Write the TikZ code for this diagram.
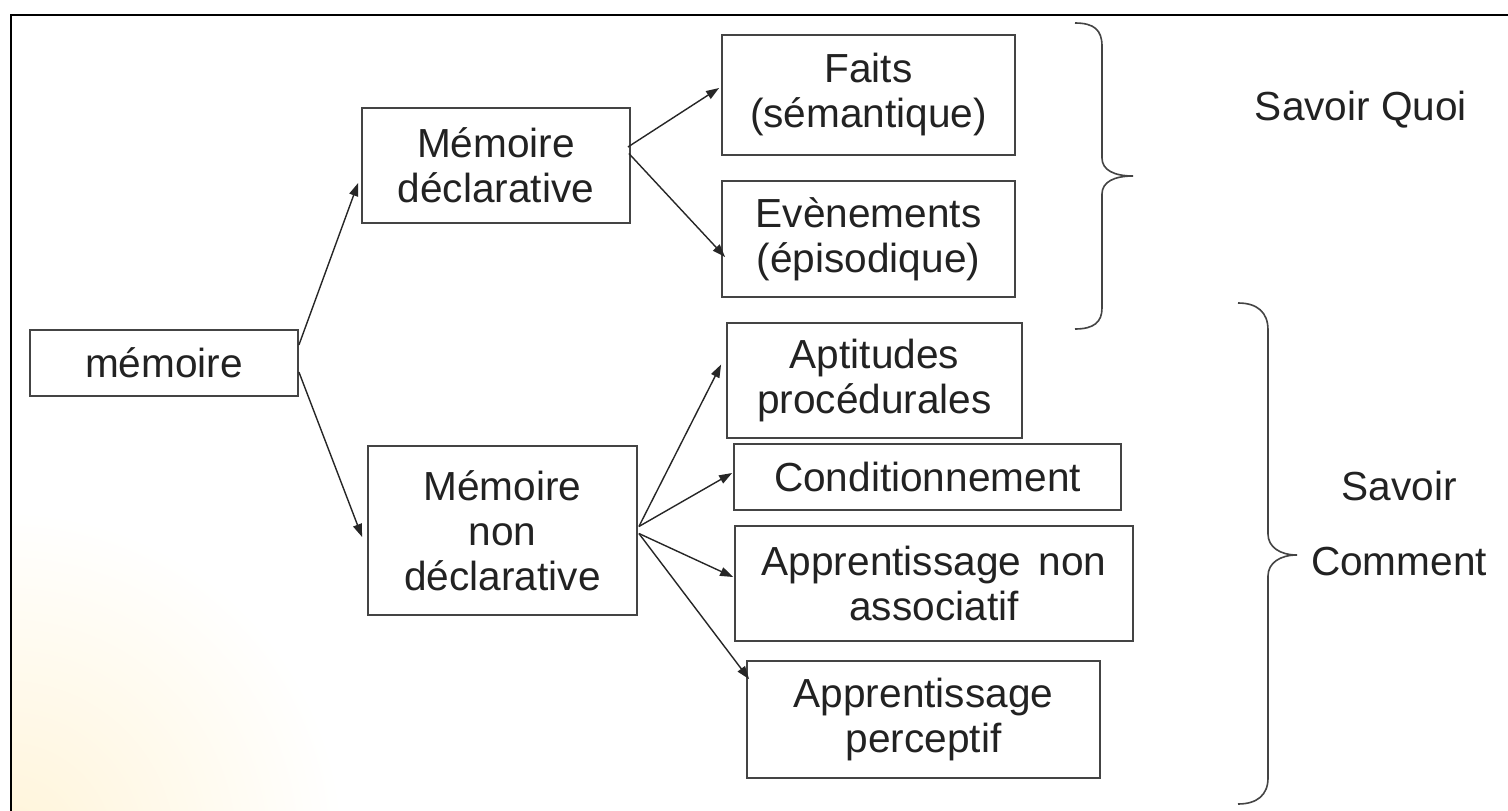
\documentclass[tikz,border=0pt]{standalone}
\usepackage{fontspec}
\setmainfont{Liberation Sans}
\usetikzlibrary{arrows.meta}
\definecolor{txt}{HTML}{222222}
\definecolor{edge}{HTML}{444444}
\definecolor{glow}{RGB}{255,244,216}
\tikzset{
  box/.style={draw=edge, line width=1.8pt, inner sep=0pt, align=center,
    text=txt, font=\fontsize{40.6pt}{45pt}\selectfont},
  conn/.style={draw=black!85, line width=1.4pt, -{Triangle[length=13pt,width=9pt]}},
  lbl/.style={inner sep=0pt, align=center, text=txt, font=\fontsize{40.6pt}{75pt}\selectfont},
  bracepath/.style={draw=edge, line width=1.6pt}
}
\begin{document}
\begin{tikzpicture}[x=1pt,y=-1pt]
\useasboundingbox (0,0) rectangle (1508,811);
\fill[white] (0,0) rectangle (1508,811);
\begin{scope}
  \clip (12,16) rectangle (1508,811);
  \shade[inner color=glow, outer color=white] (5,850) circle (340);
\end{scope}
\draw[line width=2.2pt, black] (11,811) -- (11,15) -- (1508,15);

% nodes
\node[box, minimum width=268pt, minimum height=66pt]  (mem)     at (164,363)     {mémoire};
\node[box, minimum width=268pt, minimum height=115pt] (decl)    at (496,165.5)   {Mémoire\\déclarative};
\node[box, minimum width=269pt, minimum height=169pt] (nondecl) at (502.5,530.5) {Mémoire\\non\\déclarative};
\node[box, minimum width=293pt, minimum height=120pt] (faits)   at (868.5,95)    {Faits\\(sémantique)};
\node[box, minimum width=293pt, minimum height=116pt] (even)    at (868.5,239)   {Evènements\\(épisodique)};
\node[box, minimum width=295pt, minimum height=115pt] (apt)     at (874.5,380.5) {Aptitudes\\procédurales};
\node[box, minimum width=387pt, minimum height=66pt]  (cond)    at (927.5,477)   {Conditionnement};
\node[box, minimum width=398pt, minimum height=115pt] (ana)     at (934,583.5)   {Apprentissage\hspace{6pt} non\\associatif};
\node[box, minimum width=353pt, minimum height=117pt] (perc)    at (923.5,719.5) {Apprentissage\\perceptif};

\node[lbl] (quoi) at (1361,110) {Savoir Quoi};
\node[lbl] (comment) at (1399,523) {Savoir\\Comment};

% connectors
\draw[conn] ([yshift=18pt]mem.east) -- ([xshift=-3pt,yshift=-17.5pt]decl.west);
\draw[conn] ([yshift=-9pt]mem.east) -- ([xshift=-5pt,yshift=-6.5pt]nondecl.west);
\draw[conn] ([xshift=-3pt,yshift=18.5pt]decl.east) -- ([xshift=-2pt,yshift=7pt]faits.west);
\draw[conn] ([xshift=-2pt,yshift=12pt]decl.east) -- ([xshift=4pt,yshift=-18pt]even.west);
\draw[conn] ([xshift=1pt,yshift=4pt]nondecl.east) -- ([xshift=-5pt,yshift=16pt]apt.west);
\draw[conn] ([xshift=1pt,yshift=4pt]nondecl.east) -- ([xshift=-1pt,yshift=4pt]cond.west);
\draw[conn] ([xshift=1pt,yshift=-3pt]nondecl.east) -- ([xshift=-1pt,yshift=6.5pt]ana.west);
\draw[conn] ([xshift=1pt,yshift=-3pt]nondecl.east) -- ([xshift=3pt,yshift=-19pt]perc.north west);

% braces
\draw[bracepath] (1075,23) .. controls (1094,23) and (1102,30) .. (1102,46)
  -- (1102,158) .. controls (1102,170) and (1114,176) .. (1133,176)
  .. controls (1114,176) and (1102,182) .. (1102,194)
  -- (1102,308) .. controls (1102,322) and (1094,329) .. (1075,329);
\draw[bracepath] (1238,303) .. controls (1257,303) and (1268,312) .. (1268,330)
  -- (1268,534) .. controls (1268,547) and (1280,555) .. (1297,555)
  .. controls (1280,555) and (1268,563) .. (1268,576)
  -- (1268,778) .. controls (1268,795) and (1257,804) .. (1238,804);
\end{tikzpicture}
\end{document}
